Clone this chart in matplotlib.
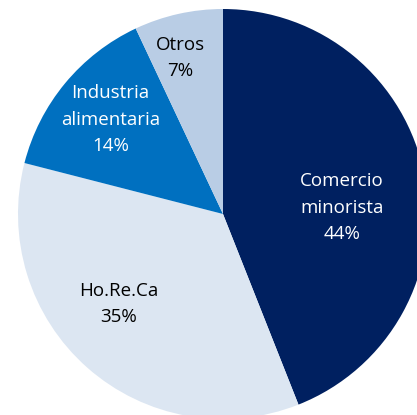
import matplotlib
matplotlib.use('Agg')
import matplotlib.pyplot as plt

labels = ['Comercio\nminorista', 'Ho.Re.Ca', 'Industria\nalimentaria', 'Otros']
shares = [44, 35, 14, 7]
colors = ['#002060', '#DCE6F2', '#0070C0', '#B9CDE5']
text_colors = ['white', 'black', 'white', 'black']
# label centres in pie units (radius = 1)
label_pos = [(0.58, 0.03), (-0.51, -0.44), (-0.55, 0.46), (-0.21, 0.76)]

fig = plt.figure(figsize=(4.17, 4.15), dpi=100)
ax = fig.add_axes([18/417, -4/415, 410/417, 410/415])
ax.pie(shares, colors=colors, startangle=90, counterclock=False, radius=1,
       wedgeprops=dict(linewidth=0))
ax.set_xlim(-1, 1)
ax.set_ylim(-1, 1)
ax.set_aspect('equal')
ax.axis('off')

for lab, s, c, (x, y) in zip(labels, shares, text_colors, label_pos):
    ax.text(x, y, f'{lab}\n{s}%', ha='center', va='center', color=c,
            fontsize=13.5, family='Open Sans', linespacing=1.6)

fig.savefig('out.png', dpi=100)
